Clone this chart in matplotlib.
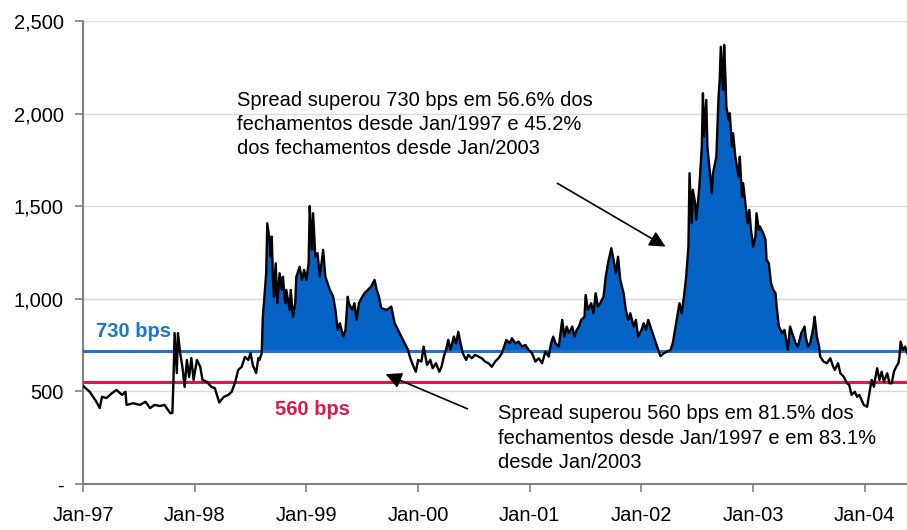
import numpy as np
import matplotlib
matplotlib.use("Agg")
import matplotlib.pyplot as plt

plt.rcParams['font.family'] = ['Liberation Sans', 'DejaVu Sans']

# spread (bps), time in decimal years
years = [
    1997.00, 1997.06, 1997.12, 1997.15, 1997.17, 1997.21, 1997.26, 1997.30, 1997.35, 1997.38,
    1997.39, 1997.45, 1997.51, 1997.56, 1997.60, 1997.64, 1997.69, 1997.73, 1997.78, 1997.80,
    1997.81, 1997.82, 1997.84, 1997.85, 1997.87, 1997.89, 1997.91, 1997.93, 1997.95, 1997.97,
    1997.99, 1998.02, 1998.05, 1998.07, 1998.11, 1998.15, 1998.18, 1998.22, 1998.26, 1998.30,
    1998.33, 1998.36, 1998.39, 1998.42, 1998.45, 1998.48, 1998.50, 1998.52, 1998.55, 1998.57,
    1998.58, 1998.60, 1998.61, 1998.64, 1998.65, 1998.67, 1998.68, 1998.69, 1998.70, 1998.71,
    1998.725, 1998.74, 1998.76, 1998.78, 1998.79, 1998.81, 1998.82, 1998.85, 1998.86, 1998.88,
    1998.90, 1998.91, 1998.94, 1998.96, 1998.98, 1999.00, 1999.02, 1999.03, 1999.04, 1999.05,
    1999.06, 1999.08, 1999.10, 1999.12, 1999.15, 1999.17, 1999.19, 1999.21, 1999.24, 1999.26,
    1999.28, 1999.30, 1999.33, 1999.35, 1999.37, 1999.38, 1999.41, 1999.43, 1999.45, 1999.47,
    1999.50, 1999.52, 1999.55, 1999.58, 1999.61, 1999.63, 1999.65, 1999.67, 1999.72, 1999.76,
    1999.79, 1999.82, 1999.85, 1999.88, 1999.91, 1999.93, 1999.96, 1999.98, 2000.00, 2000.03,
    2000.05, 2000.08, 2000.11, 2000.13, 2000.16, 2000.19, 2000.21, 2000.23, 2000.25, 2000.27,
    2000.29, 2000.32, 2000.34, 2000.36, 2000.38, 2000.40, 2000.43, 2000.45, 2000.48, 2000.51,
    2000.54, 2000.57, 2000.60, 2000.63, 2000.66, 2000.69, 2000.72, 2000.75, 2000.77, 2000.79,
    2000.82, 2000.84, 2000.87, 2000.90, 2000.93, 2000.96, 2000.99, 2001.02, 2001.05, 2001.08,
    2001.11, 2001.14, 2001.17, 2001.19, 2001.21, 2001.23, 2001.26, 2001.29, 2001.31, 2001.33,
    2001.35, 2001.38, 2001.40, 2001.42, 2001.44, 2001.46, 2001.49, 2001.50, 2001.52, 2001.55,
    2001.57, 2001.59, 2001.61, 2001.63, 2001.66, 2001.68, 2001.70, 2001.72, 2001.73, 2001.75,
    2001.77, 2001.79, 2001.81, 2001.84, 2001.86, 2001.88, 2001.90, 2001.93, 2001.95, 2001.97,
    2002.00, 2002.02, 2002.04, 2002.06, 2002.09, 2002.11, 2002.13, 2002.15, 2002.17, 2002.20,
    2002.23, 2002.26, 2002.28, 2002.32, 2002.34, 2002.36, 2002.38, 2002.40, 2002.42, 2002.43,
    2002.45, 2002.46, 2002.48, 2002.49, 2002.51, 2002.52, 2002.54, 2002.55, 2002.56, 2002.58,
    2002.59, 2002.61, 2002.63, 2002.64, 2002.67, 2002.69, 2002.70, 2002.71, 2002.73, 2002.74,
    2002.75, 2002.76, 2002.78, 2002.79, 2002.81, 2002.82, 2002.84, 2002.85, 2002.87, 2002.88,
    2002.90, 2002.91, 2002.93, 2002.95, 2002.965, 2002.98, 2003.00, 2003.02, 2003.03, 2003.05,
    2003.06, 2003.09, 2003.11, 2003.12, 2003.14, 2003.16, 2003.18, 2003.20, 2003.21, 2003.23,
    2003.26, 2003.28, 2003.30, 2003.31, 2003.33, 2003.35, 2003.37, 2003.38, 2003.40, 2003.43,
    2003.46, 2003.47, 2003.49, 2003.51, 2003.53, 2003.54, 2003.55, 2003.57, 2003.59, 2003.60,
    2003.63, 2003.66, 2003.69, 2003.71, 2003.73, 2003.76, 2003.78, 2003.81, 2003.84, 2003.86,
    2003.88, 2003.91, 2003.93, 2003.95, 2003.97, 2003.99, 2004.02, 2004.03, 2004.05, 2004.06,
    2004.08, 2004.09, 2004.11, 2004.13, 2004.15, 2004.17, 2004.20, 2004.22, 2004.24, 2004.26,
    2004.28, 2004.30, 2004.31, 2004.32, 2004.34, 2004.36, 2004.38,
]
spread = [
    530, 498, 444, 410, 471, 464, 491, 508, 481, 498,
    427, 436, 427, 444, 410, 427, 421, 427, 383, 383,
    562, 815, 599, 815, 707, 632, 524, 670, 578, 680,
    562, 670, 632, 562, 551, 524, 518, 440, 470, 481,
    497, 545, 616, 632, 686, 670, 707, 643, 599, 680,
    670, 706, 903, 1138, 1408, 1318, 1227, 1336, 1119, 1011,
    1192, 976, 1138, 1048, 1119, 976, 1048, 940, 1048, 903,
    976, 1119, 1173, 1102, 1156, 1102, 1192, 1501, 1372, 1264,
    1462, 1227, 1246, 1119, 1264, 1119, 1084, 1048, 1011, 940,
    832, 868, 796, 832, 1011, 976, 940, 976, 886, 976,
    1011, 1030, 1048, 1066, 1102, 1048, 1011, 950, 940, 958,
    868, 832, 796, 760, 724, 679, 633, 606, 670, 661,
    742, 643, 670, 625, 652, 606, 633, 688, 724, 778,
    724, 796, 760, 822, 760, 706, 670, 697, 679, 697,
    688, 679, 661, 652, 633, 661, 679, 706, 742, 778,
    760, 787, 760, 769, 742, 751, 724, 706, 661, 679,
    652, 715, 688, 760, 796, 760, 742, 886, 796, 850,
    814, 850, 796, 832, 850, 886, 903, 1021, 940, 976,
    922, 1030, 958, 976, 1011, 1119, 1192, 1246, 1273, 1210,
    1138, 1227, 1102, 1030, 940, 886, 922, 850, 886, 796,
    832, 868, 832, 886, 832, 796, 760, 724, 690, 706,
    715, 724, 760, 903, 976, 922, 1011, 1119, 1281, 1678,
    1408, 1588, 1516, 1426, 1551, 1624, 1822, 2110, 1876, 2074,
    1822, 1696, 1570, 1678, 1767, 2092, 2182, 2361, 2128, 2371,
    2218, 2037, 1966, 2002, 1822, 1894, 1767, 1731, 1659, 1767,
    1551, 1624, 1516, 1408, 1480, 1372, 1281, 1336, 1462, 1372,
    1390, 1354, 1318, 1210, 1192, 1084, 1048, 1030, 958, 850,
    814, 832, 760, 724, 850, 814, 778, 760, 742, 814,
    850, 796, 742, 760, 822, 850, 903, 796, 742, 688,
    661, 652, 679, 643, 616, 652, 598, 580, 544, 535,
    481, 498, 471, 481, 454, 427, 417, 454, 525, 562,
    525, 562, 625, 562, 606, 553, 598, 544, 544, 606,
    633, 652, 688, 769, 724, 742, 706,
]

upper_level = 720
lower_level = 550
upper_label = "730 bps"
lower_label = "560 bps"

year_ticks = [1997, 1998, 1999, 2000, 2001, 2002, 2003, 2004]
year_labels = ["Jan-97", "Jan-98", "Jan-99", "Jan-00", "Jan-01", "Jan-02", "Jan-03", "Jan-04"]
y_ticks = [0, 500, 1000, 1500, 2000, 2500]
y_labels = ["-", "500", "1,000", "1,500", "2,000", "2,500"]

note_top = ("Spread superou 730 bps em 56.6% dos\n"
            "fechamentos desde Jan/1997 e 45.2%\n"
            "dos fechamentos desde Jan/2003")
note_bottom = ("Spread superou 560 bps em 81.5% dos\n"
               "fechamentos desde Jan/1997 e em 83.1%\n"
               "desde Jan/2003")

x = np.array(years)
y = np.array(spread)

fig = plt.figure(figsize=(9.07, 5.30), dpi=100)
ax = fig.add_axes([0.0915, 0.0868, 0.9085, 0.8736])

ax.fill_between(x, y, upper_level, where=y > upper_level, interpolate=True,
                color='#0563C6', linewidth=0, zorder=2)
ax.axhline(upper_level, color='#1C74D2', linewidth=2.2, zorder=3)
ax.axhline(lower_level, color='#E0174C', linewidth=2.2, zorder=3)
ax.plot(x, y, color='black', linewidth=1.7, zorder=4)

ax.text(1997.115, 821, upper_label, color='#1C74D2', fontsize=14.5,
        fontweight='bold', va='center', ha='left', zorder=5)
ax.text(1998.72, 400, lower_label, color='#E0174C', fontsize=14.5,
        fontweight='bold', va='center', ha='left', zorder=5)

ax.text(1998.38, 1942, note_top, fontsize=14.5, va='center', ha='left',
        linespacing=1.35)
ax.text(2000.715, 248, note_bottom, fontsize=14.5, va='center', ha='left',
        linespacing=1.35)

ax.annotate("", xy=(2002.237, 1274), xytext=(2001.226, 1631),
            arrowprops=dict(arrowstyle='-|>', color='black', lw=1.2,
                            mutation_scale=24))
ax.annotate("", xy=(1999.686, 599), xytext=(2000.465, 400),
            arrowprops=dict(arrowstyle='-|>', color='black', lw=1.2,
                            mutation_scale=24))

ax.set_xlim(1997, 2004.377)
ax.set_ylim(0, 2500)
ax.set_xticks(year_ticks)
ax.set_xticklabels(year_labels)
ax.set_yticks(y_ticks)
ax.set_yticklabels(y_labels)
ax.tick_params(axis='both', labelsize=14.5, direction='out', length=6,
               width=1.2, color='#808080')
ax.tick_params(axis='x', pad=10)
ax.tick_params(axis='y', pad=8)

ax.grid(axis='y', color='#DADADA', linewidth=1)
ax.set_axisbelow(True)
for side in ['top', 'right']:
    ax.spines[side].set_visible(False)
for side in ['left', 'bottom']:
    ax.spines[side].set_color('#808080')
    ax.spines[side].set_linewidth(1.5)
ax.spines['bottom'].set_zorder(6)

fig.savefig("out.png", dpi=100)
